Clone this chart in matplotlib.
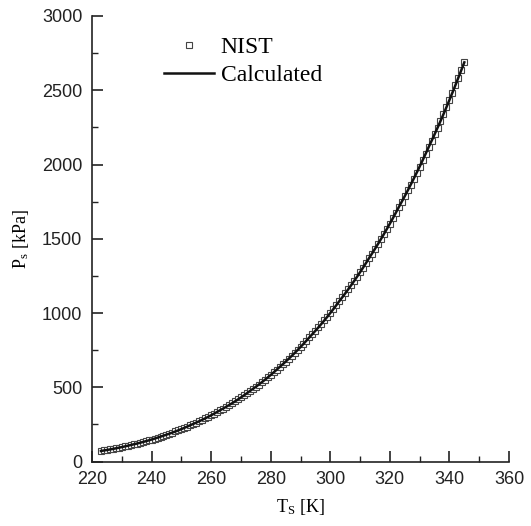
import matplotlib
matplotlib.use("Agg")
import matplotlib.pyplot as plt
from matplotlib.ticker import MultipleLocator

plt.rcParams['font.family'] = ['Liberation Sans', 'DejaVu Sans']
plt.rcParams['mathtext.fontset'] = 'custom'
plt.rcParams['mathtext.rm'] = 'Liberation Serif'
plt.rcParams['mathtext.it'] = 'Liberation Serif:italic'

# Saturation temperature [K]
temps = list(range(223, 346))
# NIST saturation pressure [kPa]
nist_p = [
    70.9, 74.2, 77.6, 81.1, 84.8, 88.7, 92.8, 97.0, 101.5, 106.1,
    111.0, 115.7, 120.5, 125.5, 130.8, 136.3, 142.0, 148.0, 154.2, 160.7,
    167.4, 173.9, 180.6, 187.5, 194.8, 202.3, 210.1, 218.2, 226.6, 235.4,
    244.5, 253.1, 262.0, 271.2, 280.7, 290.5, 300.7, 311.3, 322.2, 333.5,
    345.2, 356.3, 367.9, 379.8, 392.0, 404.7, 417.8, 431.3, 445.2, 459.6,
    474.4, 488.6, 503.1, 518.1, 533.6, 549.5, 565.9, 582.8, 600.2, 618.1,
    636.6, 654.2, 672.3, 691.0, 710.1, 729.8, 750.0, 770.8, 792.1, 814.0,
    836.5, 858.1, 880.2, 902.9, 926.2, 950.1, 974.6, 999.7, 1025.5, 1051.9,
    1079.0, 1105.0, 1131.6, 1158.9, 1186.8, 1215.4, 1244.7, 1274.7, 1305.4, 1336.8,
    1369.0, 1400.0, 1431.8, 1464.2, 1497.4, 1531.4, 1566.1, 1601.6, 1637.9, 1675.0,
    1713.0, 1749.6, 1786.9, 1825.1, 1864.1, 1903.9, 1944.5, 1986.0, 2028.4, 2071.8,
    2116.0, 2158.8, 2202.4, 2247.0, 2292.4, 2338.8, 2386.1, 2434.3, 2483.5, 2533.7,
    2585.0, 2636.0, 2688.0,
]
# Calculated saturation pressure [kPa]
calc_p = list(nist_p)

fig = plt.figure(figsize=(5.31, 5.26), dpi=100)
ax = fig.add_axes([92/531, 1-461.5/526, (509-92)/531, (461.5-16)/526])

ax.plot(temps, nist_p, linestyle='none', marker='s', markersize=4.0,
        markerfacecolor='white', markeredgecolor='#444444', markeredgewidth=0.8,
        label='NIST', zorder=2)
ax.plot(temps, calc_p, color='#111111', linewidth=1.8, label='Calculated', zorder=3)

ax.set_xlim(220, 360)
ax.set_ylim(0, 3000)
ax.xaxis.set_major_locator(MultipleLocator(20))
ax.xaxis.set_minor_locator(MultipleLocator(10))
ax.yaxis.set_major_locator(MultipleLocator(500))
ax.yaxis.set_minor_locator(MultipleLocator(250))

for s in ['top', 'right']:
    ax.spines[s].set_visible(False)
for s in ['left', 'bottom']:
    ax.spines[s].set_linewidth(1.2)
    ax.spines[s].set_color('#222222')

ax.tick_params(which='major', direction='in', length=8, width=1.2, labelsize=13,
               colors='#222222', pad=7)
ax.tick_params(which='minor', direction='in', length=4, width=1.0, colors='#222222')

ax.set_xlabel(r'$\mathrm{T_S}$ [K]', fontfamily='Liberation Serif', fontsize=13, labelpad=6)
ax.set_ylabel(r'$\mathrm{P_s}$ [kPa]', fontfamily='Liberation Serif', fontsize=13, labelpad=8)

leg = ax.legend(loc='upper left', bbox_to_anchor=(0.15, 0.975), frameon=False,
                prop={'family': 'Liberation Serif', 'size': 17},
                handlelength=2.1, handletextpad=0.3, labelspacing=0.27, borderaxespad=0)

fig.savefig('out.png', dpi=100)
